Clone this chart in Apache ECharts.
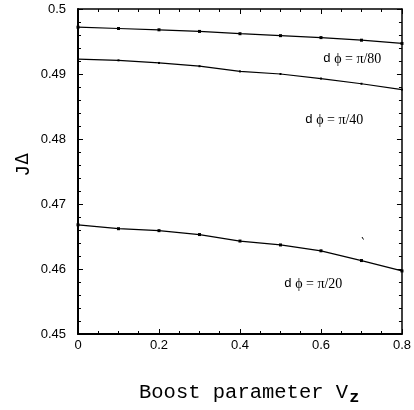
<!DOCTYPE html>
<html>
<head>
<meta charset="utf-8">
<script src="https://cdn.jsdelivr.net/npm/echarts@6/dist/echarts.min.js"></script>
<style>html,body{margin:0;padding:0;background:#fff;}#c{width:414px;height:410px;}</style>
</head>
<body>
<div id="c"></div>
<script>
const xValues = [0, 0.1, 0.2, 0.3, 0.4, 0.5, 0.6, 0.7, 0.8];
const seriesPi80 = [0.4972, 0.4970, 0.4968, 0.49655, 0.4962, 0.4959, 0.4956, 0.4952, 0.4947];
const seriesPi40 = [0.4923, 0.4921, 0.4917, 0.4912, 0.4904, 0.4900, 0.4893, 0.4885, 0.4876];
const seriesPi20 = [0.4668, 0.4662, 0.4659, 0.4653, 0.4643, 0.4637, 0.4628, 0.4613, 0.4597];
const xTicks = [0, 0.2, 0.4, 0.6, 0.8];
const yTicks = [0.45, 0.46, 0.47, 0.48, 0.49, 0.5];
const seriesLabels = ['π/80', 'π/40', 'π/20'];

const chart = echarts.init(document.getElementById('c'), null, {renderer: 'canvas'});

function pairs(vals) { return xValues.map((x, i) => [x, vals[i]]); }

const baseAxis = {
  type: 'value',
  splitLine: {show: false},
  axisLine: {show: true, onZero: false, lineStyle: {color: '#000', width: 2}},
  axisTick: {show: true, inside: true, length: 5, lineStyle: {color: '#000', width: 1}},
  minorTick: {show: true, length: 3, lineStyle: {color: '#000', width: 1}},
  axisLabel: {color: '#000', fontSize: 13, fontFamily: 'Liberation Sans, Arial, sans-serif'}
};

function lineSeries(name, vals, sym) {
  return {
    name: name, type: 'line', data: pairs(vals),
    symbol: 'rect', symbolSize: sym,
    itemStyle: {color: '#000'},
    lineStyle: {color: '#000', width: 1.2},
    silent: true, animation: false
  };
}

const annotRich = {
  d: {fontFamily: 'Liberation Mono, Courier New, monospace', fontSize: 13, fill: '#000'},
  t: {fontFamily: 'Liberation Serif, Times New Roman, serif', fontSize: 14, fill: '#000'}
};

function annot(x, y, lbl) {
  return {
    type: 'text', left: x, top: y,
    style: {text: '{d|d} {t|\u03D5 = ' + lbl + '}', rich: annotRich, fill: '#000'}
  };
}

chart.setOption({
  animation: false,
  grid: {left: 78, right: 11, top: 9, bottom: 76},
  xAxis: [
    Object.assign({}, baseAxis, {
      position: 'bottom', min: xTicks[0], max: xTicks[xTicks.length - 1], interval: 0.2,
      minorTick: Object.assign({}, baseAxis.minorTick, {splitNumber: 4}),
      axisLabel: Object.assign({}, baseAxis.axisLabel, {margin: 5, formatter: v => String(v)})
    }),
    Object.assign({}, baseAxis, {
      position: 'top', min: xTicks[0], max: xTicks[xTicks.length - 1], interval: 0.2,
      axisLine: {show: true, onZero: false, lineStyle: {color: '#000', width: 1.5}},
      minorTick: Object.assign({}, baseAxis.minorTick, {splitNumber: 4}),
      axisLabel: {show: false}
    })
  ],
  yAxis: [
    Object.assign({}, baseAxis, {
      position: 'left', min: yTicks[0], max: yTicks[yTicks.length - 1], interval: 0.01,
      minorTick: Object.assign({}, baseAxis.minorTick, {splitNumber: 5}),
      axisLabel: Object.assign({}, baseAxis.axisLabel, {margin: 12, formatter: v => String(+v.toFixed(2))})
    }),
    Object.assign({}, baseAxis, {
      position: 'right', min: yTicks[0], max: yTicks[yTicks.length - 1], interval: 0.01,
      axisLine: {show: true, onZero: false, lineStyle: {color: '#000', width: 1.5}},
      minorTick: Object.assign({}, baseAxis.minorTick, {splitNumber: 5}),
      axisLabel: {show: false}
    })
  ],
  series: [
    lineSeries('π/80', seriesPi80, 3),
    lineSeries('π/40', seriesPi40, 2),
    lineSeries('π/20', seriesPi20, 3)
  ],
  graphic: [
    annot(323, 52, seriesLabels[0]),
    annot(305, 113, seriesLabels[1]),
    annot(284, 277, seriesLabels[2]),
    {
      type: 'text', x: 24, y: 165, rotation: Math.PI / 2,
      style: {
        text: '{j|J}{g|Δ}',
        align: 'center', verticalAlign: 'middle',
        rich: {
          j: {fontFamily: 'Liberation Mono, Courier New, monospace', fontSize: 20, fill: '#000'},
          g: {fontFamily: 'DejaVu Sans, sans-serif', fontSize: 17, fill: '#000'}
        }
      }
    },
    {
      type: 'text', left: 139, top: 380,
      style: {
        text: '{m|Boost parameter V}{s|z}',
        rich: {
          m: {fontFamily: 'Liberation Mono, Courier New, monospace', fontSize: 20.5, fill: '#000', lineHeight: 24},
          s: {fontFamily: 'Liberation Mono, Courier New, monospace', fontSize: 17, fontWeight: 'bold', fill: '#000', padding: [9, 0, 0, 1], lineHeight: 24}
        }
      }
    },
    {
      type: 'line', shape: {x1: 362, y1: 237, x2: 363.5, y2: 239.5},
      style: {stroke: '#000', lineWidth: 1}
    }
  ]
});
</script>
</body>
</html>
